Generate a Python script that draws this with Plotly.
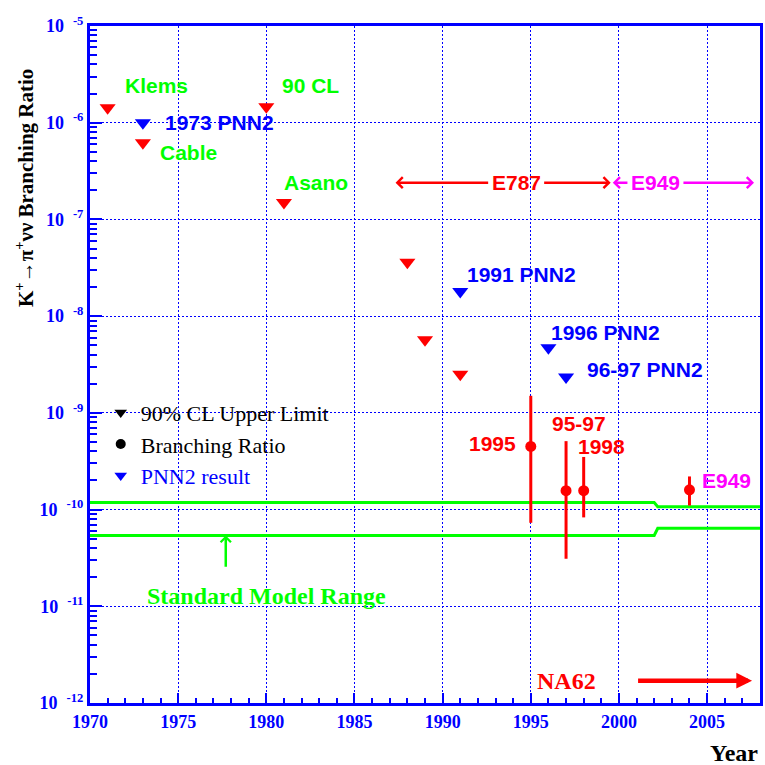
import numpy as np
import plotly.graph_objects as go

# 90% CL upper limits from the early searches and E787
ul_year = [1971, 1973, 1980, 1981, 1988, 1989, 1991]
ul_value = [1.43e-6, 6.2e-7, 1.46e-6, 1.5e-7, 3.6e-8, 5.7e-9, 2.5e-9]
ul_label = ["Klems", "Cable", "90 CL", "Asano", None, None, None]

# PNN2 upper limits
pnn2_year = [1973, 1991, 1996, 1997]
pnn2_value = [1.0e-6, 1.8e-8, 4.7e-9, 2.35e-9]
pnn2_label = ["1973 PNN2", "1991 PNN2", "1996 PNN2", "96-97 PNN2"]

# Measured branching ratios with asymmetric errors
br_year = [1995, 1997, 1998, 2004]
br_value = [4.5e-10, 1.57e-10, 1.57e-10, 1.6e-10]
br_high = [1.5e-9, 5.1e-10, 3.5e-10, 2.2e-10]
br_low = [7.3e-11, 3.1e-11, 8.3e-11, 1.1e-10]
br_label = ["1995", "95-97", "1998", "E949"]

# Standard Model range (upper and lower edge)
sm_year = [1970, 2002, 2002.2, 2008]
sm_upper = [1.18e-10, 1.18e-10, 1.07e-10, 1.07e-10]
sm_lower = [5.4e-11, 5.4e-11, 6.4e-11, 6.4e-11]

# Running periods of the experiments
e787_span = [1987.33, 1999.53]
e949_span = [1999.65, 2007.66]
run_level = 2.4e-7
na62_span = [2001.0, 2007.55]
na62_level = 1.7e-12

# Axis ticks
x_ticks = [1970, 1975, 1980, 1985, 1990, 1995, 2000, 2005]
y_exponents = [-12, -11, -10, -9, -8, -7, -6, -5]

RED = "#FF0000"
BLUE = "#0000FF"
GREEN = "#00FF00"
MAGENTA = "#FF00FF"
SANS = "Liberation Sans"
SERIF = "Liberation Serif"

fig = go.Figure()

# Standard Model band edges
for edge in (sm_upper, sm_lower):
    fig.add_trace(go.Scatter(x=sm_year, y=edge, mode="lines",
                             line=dict(color=GREEN, width=3),
                             showlegend=False, hoverinfo="skip"))

fig.add_trace(go.Scatter(x=ul_year, y=ul_value, mode="markers",
                         marker=dict(symbol="triangle-down", size=14, color=RED),
                         showlegend=False))
fig.add_trace(go.Scatter(x=pnn2_year, y=pnn2_value, mode="markers",
                         marker=dict(symbol="triangle-down", size=14, color=BLUE),
                         showlegend=False))

br_plus = [h - v for h, v in zip(br_high, br_value)]
br_minus = [v - l for v, l in zip(br_value, br_low)]
fig.add_trace(go.Scatter(x=br_year, y=br_value, mode="markers",
                         marker=dict(symbol="circle", size=11, color=RED),
                         error_y=dict(type="data", symmetric=False, array=br_plus,
                                      arrayminus=br_minus, color=RED,
                                      thickness=3, width=0),
                         showlegend=False))

# Legend keys
fig.add_trace(go.Scatter(x=[None], y=[None], mode="markers", name="90% CL Upper Limit",
                         marker=dict(symbol="triangle-down", size=11, color="black")))
fig.add_trace(go.Scatter(x=[None], y=[None], mode="markers", name="Branching Ratio",
                         marker=dict(symbol="circle", size=10, color="black")))
fig.add_trace(go.Scatter(x=[None], y=[None], mode="markers",
                         name="<span style='color:#0000FF'>PNN2 result</span>",
                         marker=dict(symbol="triangle-down", size=11, color=BLUE)))

annotations = []


def label(text, x, y, color, xshift, yshift, xanchor="left", size=21):
    annotations.append(dict(x=x, y=np.log10(y), xref="x", yref="y", text=text,
                            showarrow=False, xanchor=xanchor, yanchor="middle",
                            xshift=xshift, yshift=yshift,
                            font=dict(family=SANS, size=size, color=color, weight="bold")))


ul_offsets = {"Klems": (15, 22), "Cable": (15, -10), "90 CL": (14, 21), "Asano": (-2, 20)}
for yr, val, txt in zip(ul_year, ul_value, ul_label):
    if txt:
        dx, dy = ul_offsets[txt]
        label(txt, yr, val, GREEN, dx, dy)

pnn2_offsets = [(20, 0), (5, 17), (1, 15), (19, 7)]
for yr, val, txt, (dx, dy) in zip(pnn2_year, pnn2_value, pnn2_label, pnn2_offsets):
    label(txt, yr, val, BLUE, dx, dy)

br_style = [(-13, 3, "right", RED), (-16, 67, "left", RED),
            (-8, 44, "left", RED), (11, 9, "left", MAGENTA)]
for yr, val, txt, (dx, dy, anc, col) in zip(br_year, br_value, br_label, br_style):
    label(txt, yr, val, col, dx, dy, anc)


def span_arrows(text, span, level, center, color):
    ly = np.log10(level)
    for i, end in enumerate(span):
        annotations.append(dict(
            x=end, y=ly, ax=center, ay=ly, xref="x", yref="y", axref="x", ayref="y",
            text=text, showarrow=True, arrowhead=4, arrowsize=0.85, arrowwidth=2.5,
            arrowcolor=color, borderpad=3,
            font=dict(family=SANS, size=21, weight="bold",
                      color=color if i == 0 else "rgba(0,0,0,0)")))


span_arrows("E787", e787_span, run_level, 1994.17, RED)
span_arrows("E949", e949_span, run_level, 2002.07, MAGENTA)

# NA62 arrow and label
annotations.append(dict(x=na62_span[1], y=np.log10(na62_level), ax=na62_span[0],
                        ay=np.log10(na62_level), xref="x", yref="y", axref="x", ayref="y",
                        text="", showarrow=True, arrowhead=2, arrowsize=0.7,
                        arrowwidth=4.5, arrowcolor=RED))
annotations.append(dict(x=1997.0, y=np.log10(na62_level), xref="x", yref="y",
                        text="NA62", showarrow=False, xanchor="center", yanchor="middle",
                        font=dict(family=SERIF, size=24, color=RED, weight="bold")))

# Standard Model range arrow and label
annotations.append(dict(x=1977.7, y=np.log10(sm_lower[0]), ax=1977.7, ay=np.log10(2.47e-11),
                        xref="x", yref="y", axref="x", ayref="y", text="",
                        showarrow=True, arrowhead=4, arrowsize=0.8, arrowwidth=2.5,
                        arrowcolor=GREEN))
annotations.append(dict(x=1980.0, y=-10.897, xref="x", yref="y",
                        text="Standard Model Range", showarrow=False,
                        xanchor="center", yanchor="middle",
                        font=dict(family=SERIF, size=24, color=GREEN, weight="bold")))

# Axis titles
annotations.append(dict(x=-0.0966, y=0.761, xref="paper", yref="paper",
                        text="K<sup>+</sup>→π<sup>+</sup>νν Branching Ratio",
                        textangle=-90, showarrow=False, xanchor="center", yanchor="middle",
                        font=dict(family=SERIF, size=21, color="black", weight="bold")))
annotations.append(dict(x=1.0, y=-0.074, xref="paper", yref="paper", text="Year",
                        showarrow=False, xanchor="right", yanchor="middle",
                        font=dict(family=SERIF, size=24, color="black", weight="bold")))

y_minor = [k * 10.0 ** e for e in y_exponents[:-1] for k in range(2, 10)]

fig.update_layout(
    width=765, height=765,
    margin=dict(l=90, r=2, t=26, b=62),
    paper_bgcolor="white", plot_bgcolor="white",
    annotations=annotations,
    legend=dict(x=0.016, y=0.46, xanchor="left", yanchor="top",
                bgcolor="rgba(0,0,0,0)",
                font=dict(family=SERIF, size=22, color="black")),
    xaxis=dict(range=[1970, 2008], tickvals=x_ticks, ticktext=[str(t) for t in x_ticks],
               ticks="inside", ticklen=10, tickwidth=2, tickcolor=BLUE,
               showline=True, linewidth=3, linecolor=BLUE, mirror=True,
               showgrid=True, gridcolor=BLUE, gridwidth=1, griddash="2px,2px",
               zeroline=False,
               tickfont=dict(family=SERIF, size=18, color=BLUE, weight="bold"),
               minor=dict(dtick=1, ticks="inside", ticklen=5, tickwidth=2,
                          tickcolor=BLUE, showgrid=False)),
    yaxis=dict(type="log", range=[-12, -5],
               tickvals=[10.0 ** e for e in y_exponents],
               ticktext=["10\u2002<sup>%d</sup>" % e for e in y_exponents],
               ticks="inside", ticklen=12, tickwidth=2, tickcolor=BLUE,
               showline=True, linewidth=3, linecolor=BLUE, mirror=True,
               showgrid=True, gridcolor=BLUE, gridwidth=1, griddash="2px,2px",
               zeroline=False,
               tickfont=dict(family=SERIF, size=18, color=BLUE, weight="bold"),
               minor=dict(tickvals=y_minor, ticks="inside", ticklen=7, tickwidth=2,
                          tickcolor=BLUE, showgrid=False)),
)

fig.write_html("out.html")
